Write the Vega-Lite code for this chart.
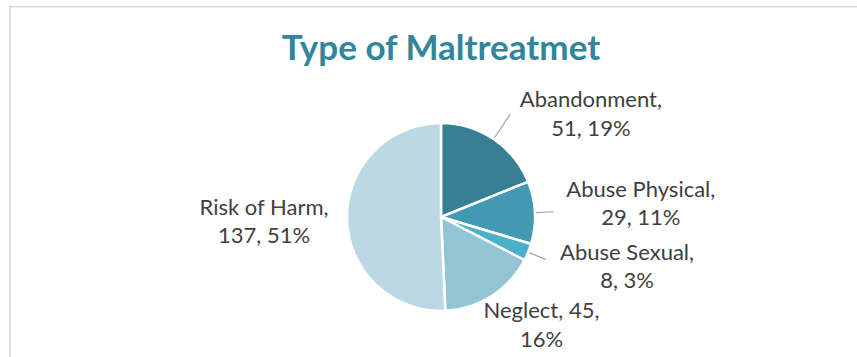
{
  "$schema": "https://vega.github.io/schema/vega-lite/v6.json",
  "autosize": {"type": "none"},
  "padding": {"left": 10, "top": 6.5, "right": -15, "bottom": -70.5},
  "width": 862,
  "height": 421,
  "background": "white",
  "view": {"stroke": "#d9d9d9", "strokeWidth": 1.75, "fill": "white", "cornerRadius": 0},
  "config": {"view": {"stroke": "#d9d9d9", "strokeWidth": 1.75}},
  "title": {
    "text": "Type of Maltreatmet",
    "font": "Lato",
    "fontSize": 35,
    "fontWeight": "bold",
    "color": "#31859c",
    "anchor": "middle",
    "frame": "group",
    "offset": -60
  },
  "data": {
    "values": [
      {"cat": "Abandonment", "value": 51, "label": "Abandonment,\n51, 19%"},
      {"cat": "Abuse Physical", "value": 29, "label": "Abuse Physical,\n29, 11%"},
      {"cat": "Abuse Sexual", "value": 8, "label": "Abuse Sexual,\n8, 3%"},
      {"cat": "Neglect", "value": 45, "label": "Neglect, 45,\n16%"},
      {"cat": "Risk of Harm", "value": 137, "label": "Risk of Harm,\n137, 51%"}
    ]
  },
  "encoding": {
    "theta": {"field": "value", "type": "quantitative", "stack": true, "scale": {"nice": false}},
    "order": {"field": "cat", "type": "nominal", "sort": "ascending"}
  },
  "layer": [
    {
      "mark": {"type": "arc", "radius": 94, "stroke": "white", "strokeWidth": 2.5},
      "encoding": {
        "color": {
          "field": "cat",
          "type": "nominal",
          "scale": {
            "domain": ["Abandonment", "Abuse Physical", "Abuse Sexual", "Neglect", "Risk of Harm"],
            "range": ["#367f94", "#4299b1", "#4bb1ca", "#93c4d5", "#bcd8e4"]
          },
          "legend": null
        }
      }
    },
    {
      "mark": {"type": "arc", "radius": 124, "radius2": 95, "padAngle": 1.2, "fillOpacity": 0, "stroke": "#a6a6a6", "strokeWidth": 1.2},
      "encoding": {
        "strokeOpacity": {"condition": {"test": "datum.cat === 'Abandonment'", "value": 1}, "value": 0}
      }
    },
    {
      "mark": {"type": "arc", "radius": 113, "radius2": 95, "padAngle": 1.2, "fillOpacity": 0, "stroke": "#a6a6a6", "strokeWidth": 1.2},
      "encoding": {
        "strokeOpacity": {"condition": {"test": "datum.cat === 'Abuse Physical' || datum.cat === 'Abuse Sexual'", "value": 1}, "value": 0}
      }
    },
    {
      "mark": {"type": "text", "radius": 150, "dx": 66, "dy": 7.75, "font": "Lato", "fontSize": 22, "color": "#404040", "lineBreak": "\n", "lineHeight": 28.5, "align": "center", "baseline": "middle"},
      "encoding": {
        "text": {"field": "label"},
        "opacity": {"condition": {"test": "datum.cat === 'Abandonment'", "value": 1}, "value": 0}
      }
    },
    {
      "mark": {"type": "text", "radius": 150, "dx": 50, "dy": -20.25, "font": "Lato", "fontSize": 22, "color": "#404040", "lineBreak": "\n", "lineHeight": 28.5, "align": "center", "baseline": "middle"},
      "encoding": {
        "text": {"field": "label"},
        "opacity": {"condition": {"test": "datum.cat === 'Abuse Physical'", "value": 1}, "value": 0}
      }
    },
    {
      "mark": {"type": "text", "radius": 150, "dx": 47, "dy": -20.25, "font": "Lato", "fontSize": 22, "color": "#404040", "lineBreak": "\n", "lineHeight": 28.5, "align": "center", "baseline": "middle"},
      "encoding": {
        "text": {"field": "label"},
        "opacity": {"condition": {"test": "datum.cat === 'Abuse Sexual'", "value": 1}, "value": 0}
      }
    },
    {
      "mark": {"type": "text", "radius": 150, "dx": 19.5, "dy": -32.25, "font": "Lato", "fontSize": 22, "color": "#404040", "lineBreak": "\n", "lineHeight": 28.5, "align": "center", "baseline": "middle"},
      "encoding": {
        "text": {"field": "label"},
        "opacity": {"condition": {"test": "datum.cat === 'Neglect'", "value": 1}, "value": 0}
      }
    },
    {
      "mark": {"type": "text", "radius": 150, "dx": -27, "dy": -12.75, "font": "Lato", "fontSize": 22, "color": "#404040", "lineBreak": "\n", "lineHeight": 28.5, "align": "center", "baseline": "middle"},
      "encoding": {
        "text": {"field": "label"},
        "opacity": {"condition": {"test": "datum.cat === 'Risk of Harm'", "value": 1}, "value": 0}
      }
    }
  ]
}
